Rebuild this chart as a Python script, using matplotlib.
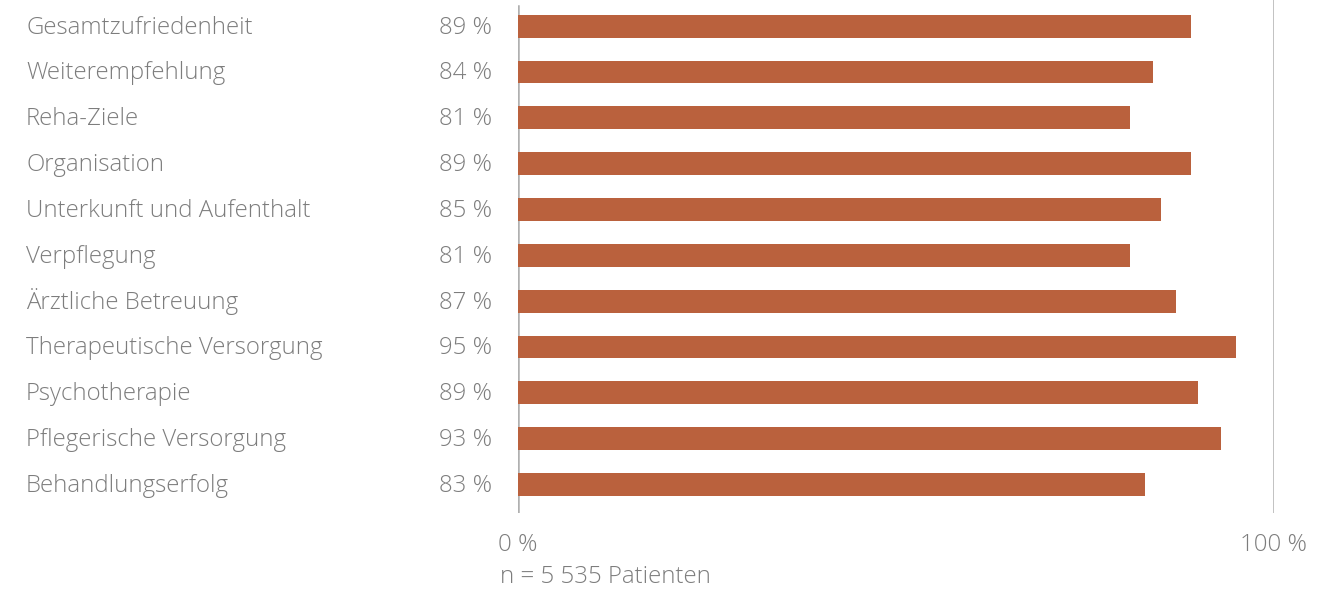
import matplotlib
matplotlib.use('Agg')
import matplotlib.pyplot as plt
import matplotlib.transforms as mtransforms

# data
categories = ['Gesamtzufriedenheit', 'Weiterempfehlung', 'Reha-Ziele', 'Organisation',
              'Unterkunft und Aufenthalt', 'Verpflegung', 'Ärztliche Betreuung',
              'Therapeutische Versorgung', 'Psychotherapie', 'Pflegerische Versorgung',
              'Behandlungserfolg']
values = [89, 84, 81, 89, 85, 81, 87, 95, 90, 93, 83]
value_labels = ['89 %', '84 %', '81 %', '89 %', '85 %', '81 %', '87 %', '95 %', '89 %', '93 %', '83 %']
tick_values = [0, 100]
tick_labels = ['0 %', '100 %']
footnote = 'n = 5 535 Patienten'

BAR = '#ba613d'
TXT = '#7d7d7d'
LINE = '#b0b0b0'
FONT = 'Open Sans'

W, H = 1341, 589
fig = plt.figure(figsize=(W / 100, H / 100), dpi=100)

# axes placed in pixel coordinates
x0, x1 = 518, 1274
ytop, ybot = 0, 512.7
ax = fig.add_axes([x0 / W, (H - ybot) / H, (x1 - x0) / W, (ybot - ytop) / H])

first_c, step = 26.2, 45.83
ax.set_ylim((ybot - first_c) / step, (ytop - first_c) / step)
ax.set_xlim(0, 100)

ypos = list(range(len(categories)))
ax.barh(ypos, values, height=0.5, color=BAR, left=0, zorder=2)

for s in ax.spines.values():
    s.set_visible(False)
ax.set_xticks([])
ax.set_yticks([])

ax.axvline(0, ymin=0, ymax=1 - 5.7 / (ybot - ytop), color=LINE, lw=1.8, zorder=1)
ax.axvline(100, ymin=0, ymax=1, color=LINE, lw=1.8, zorder=1)

fs = 17.3
base = 7.4 / step  # baseline sits this far below bar centre
tr = mtransforms.blended_transform_factory(fig.transFigure, ax.transData)
kw = dict(va='baseline', color=TXT, fontsize=fs, family=FONT, fontweight='light')
for i, (c, lab) in enumerate(zip(categories, value_labels)):
    ax.text(26 / W, i + base, c, ha='left', transform=tr, **kw)
    ax.text(492 / W, i + base, lab, ha='right', transform=tr, **kw)

trx = mtransforms.blended_transform_factory(ax.transData, fig.transFigure)
for v, t in zip(tick_values, tick_labels):
    ax.text(v, 1 - 551 / H, t, transform=trx, ha='center', **kw)

fig.text(500 / W, 1 - 583 / H, footnote, ha='left', **kw)

fig.savefig('out.png', dpi=100, facecolor='white')
